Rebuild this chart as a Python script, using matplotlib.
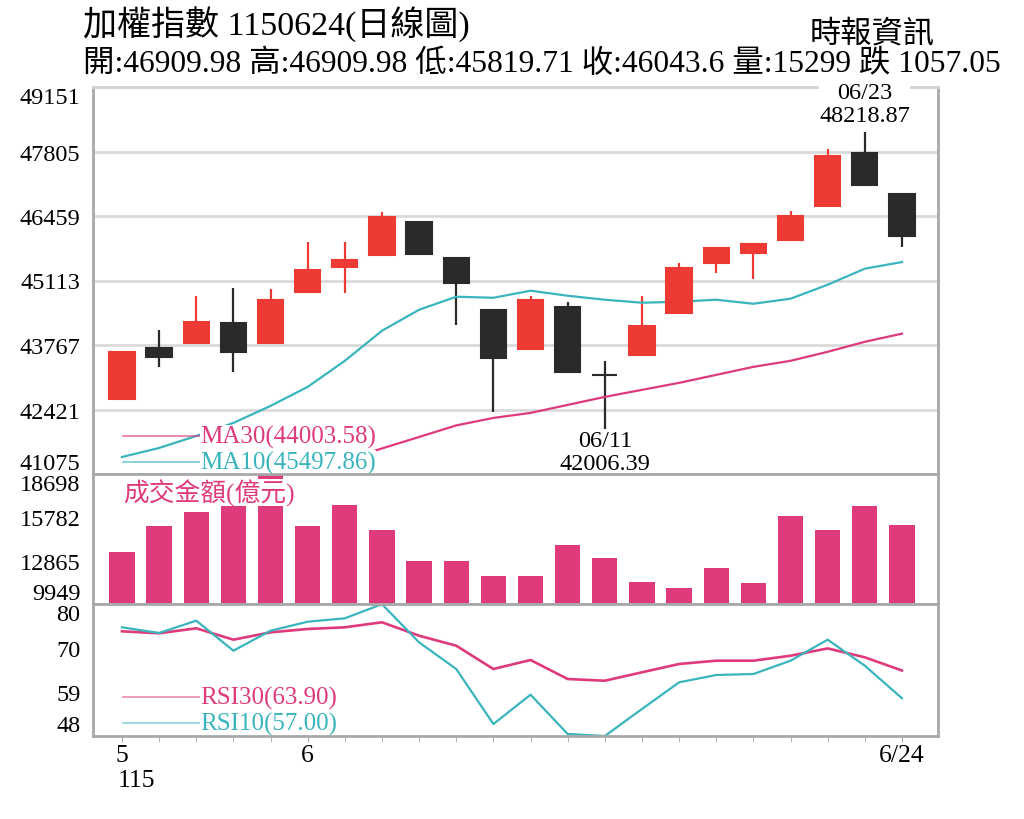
import matplotlib.pyplot as plt
import numpy as np

plt.rcParams['font.family'] = ['Liberation Serif', 'Noto Sans CJK TC']

# daily candles, 5/22 .. 6/24 (ROC year 115)
opens = [42649, 43708, 43819, 44216, 43807, 44864, 45387, 45646, 46342, 45589, 44496,
         43681, 44559, 43150, 43562, 44434, 45479, 45679, 45959, 46676, 47778, 46909.98]
highs = [43625, 44085, 44795, 44948, 44935, 45918, 45918, 46536, 46342, 45589, 44496,
         44781, 44655, 43437, 44781, 45479, 45792, 45876, 46557, 47847, 48218.87, 46909.98]
lows = [42649, 43311, 43819, 43207, 43807, 44864, 44852, 45646, 45673, 44183, 42365,
        43681, 43213, 42006.39, 43562, 44434, 45270, 45144, 45959, 46676, 47094, 45819.71]
closes = [43625, 43514, 44246, 43625, 44712, 45332, 45541, 46446, 45673, 45061, 43493,
          44697, 43213, 43140, 44154, 45374, 45792, 45876, 46453, 47721, 47100.65, 46043.6]

ma10 = [41430, 41618, 41869, 42141, 42496, 42893, 43437, 44064, 44503, 44774, 44753,
        44900, 44795, 44712, 44649, 44670, 44712, 44628, 44733, 45025, 45360, 45497.86]
ma30 = [39925, 40176, 40406, 40657, 40887, 41138, 41368, 41608, 41848, 42089, 42245,
        42350, 42517, 42684, 42831, 42977, 43144, 43311, 43437, 43625, 43834, 44003.58]

volume = [13469, 15219, 16120, 16565, 18698, 15219, 16632, 14929, 12843, 12843, 11854,
          11854, 13920, 13065, 11450, 11026, 12352, 11362, 15851, 14929, 16565, 15299]

rsi30 = [73.65, 73.16, 74.4, 71.57, 73.4, 74.23, 74.65, 75.9, 72.56, 70.07, 64.27,
         66.51, 61.78, 61.36, 63.45, 65.52, 66.34, 66.34, 67.58, 69.4, 67.18, 63.90]
rsi10 = [74.65, 73.23, 76.3, 68.83, 73.8, 76.04, 76.89, 80.4, 70.9, 64.27, 50.58,
         57.88, 48.1, 47.6, 54.32, 60.96, 62.78, 63.03, 66.34, 71.57, 65.09, 57.00]

price_ticks = [41075, 42421, 43767, 45113, 46459, 47805, 49151]
vol_ticks = [9949, 12865, 15782, 18698]
rsi_ticks = [47.6, 58.55, 69.5, 80.45]
rsi_labels = ['48', '59', '70', '80']

x = np.arange(len(opens))
up_color = '#ee3a35'
down_color = '#2a2a2a'
pink = '#df3a7c'
teal = '#3ab5be'
spine_gray = '#a8a8a8'

fig = plt.figure(figsize=(10.24, 8.2), dpi=100)
L, W = 93 / 1024, 845 / 1024
ax1 = fig.add_axes([L, 1 - 475 / 820, W, 387 / 820])
ax2 = fig.add_axes([L, 1 - 605 / 820, W, 130 / 820], sharex=ax1)
ax3 = fig.add_axes([L, 1 - 737 / 820, W, 132 / 820], sharex=ax1)

for ax in (ax1, ax2, ax3):
    for s in ax.spines.values():
        s.set_color(spine_gray)
        s.set_linewidth(2)
    ax.tick_params(axis='y', length=0, labelsize=17.5, pad=9)
    ax.tick_params(axis='x', bottom=False, labelbottom=False)
ax1.spines['top'].set_color('#d4d4d4')

# candles
colors = [up_color if c >= o else down_color for o, c in zip(opens, closes)]
colors[13] = down_color
ax1.vlines(x, lows, highs, colors=colors, linewidth=1.6, zorder=2)
bottoms = [min(o, c) for o, c in zip(opens, closes)]
heights = [abs(c - o) for o, c in zip(opens, closes)]
ax1.bar(x, heights, bottom=bottoms, width=0.68, color=colors, edgecolor=colors,
        linewidth=1.5, zorder=3)
ax1.plot(x, ma10, color=teal, lw=1.6, zorder=2)
ax1.plot(x, ma30, color=pink, lw=1.6, zorder=2)
ax1.set_xlim(-0.78, 21.97)
ax1.set_ylim(price_ticks[0], price_ticks[-1])
ax1.set_yticks(price_ticks)
ax1.set_yticklabels([str(t) for t in price_ticks])
ax1.yaxis.grid(True, color='#dadada', lw=2)
ax1.set_axisbelow(True)
ylab = ax1.get_yticklabels()
ylab[0].set_va('bottom')
ylab[-1].set_va('top')

box = dict(facecolor='white', edgecolor='none', pad=0)
ax1.text(20, 48218.87 + 110, '06/23\n48218.87', ha='center', va='bottom', fontsize=17.5,
         linespacing=1.12, bbox=box, zorder=5)
ax1.text(13, 42006.39 - 20, '06/11\n42006.39', ha='center', va='top', fontsize=17.5,
         linespacing=1.12, bbox=box, zorder=5, clip_on=False)

lx0, lx1 = (123 - 93) / 845, (200 - 93) / 845
for yy, name, col in [(0.098, 'MA30(44003.58)', pink), (0.031, 'MA10(45497.86)', teal)]:
    ax1.plot([lx0, lx1], [yy, yy], color=col, lw=1.2, alpha=0.7,
             transform=ax1.transAxes, zorder=4)
    ax1.text(lx1, yy, name, color=col, fontsize=18, va='center', ha='left',
             transform=ax1.transAxes, bbox=box, zorder=5)

# volume
ax2.bar(x, volume, width=0.68, color=pink, zorder=2)
ax2.set_ylim(vol_ticks[0], vol_ticks[-1])
ax2.set_yticks(vol_ticks)
ax2.set_yticklabels([str(t) for t in vol_ticks])
vlab = ax2.get_yticklabels()
vlab[0].set_va('bottom')
vlab[-1].set_va('top')
ax2.text(lx0, 0.86, '成交金額(億元)', color=pink, fontsize=18.5, va='center', ha='left',
         transform=ax2.transAxes, bbox=box, zorder=5)

# RSI
ax3.plot(x, rsi30, color=pink, lw=1.9, zorder=2)
ax3.plot(x, rsi10, color=teal, lw=1.6, zorder=2)
ax3.set_ylim(rsi_ticks[0], rsi_ticks[-1])
ax3.set_yticks(rsi_ticks)
ax3.set_yticklabels(rsi_labels)
rlab = ax3.get_yticklabels()
rlab[0].set_va('bottom')
rlab[-1].set_va('top')
for yy, name, col in [(0.295, 'RSI30(63.90)', pink), (0.098, 'RSI10(57.00)', teal)]:
    ax3.plot([lx0, lx1], [yy, yy], color=col, lw=1.2, alpha=0.6,
             transform=ax3.transAxes, zorder=4)
    ax3.text(lx1, yy, name, color=col, fontsize=18, va='center', ha='left',
             transform=ax3.transAxes, bbox=box, zorder=5)

ax3.set_xticks([0, 5, 21])
ax3.set_xticklabels(['5', '6', '6/24'])
ax3.set_xticks(x, minor=True)
ax3.tick_params(axis='x', which='major', bottom=True, labelbottom=True, length=4,
                color=spine_gray, labelsize=18.5, pad=2)
ax3.tick_params(axis='x', which='minor', bottom=True, length=4, color=spine_gray)
ax3.text(-0.12, -0.33, '115', fontsize=18.5, ha='left', va='center',
         transform=ax3.get_xaxis_transform())

# header
fig.text(83 / 1024, 1 - 25 / 820, '加權指數 1150624(日線圖)', fontsize=24.5, ha='left', va='center')
fig.text(935 / 1024, 1 - 35 / 820, '時報資訊', fontsize=22.5, ha='right', va='center')
fig.text(83 / 1024, 1 - 64 / 820,
         '開:46909.98 高:46909.98 低:45819.71 收:46043.6 量:15299 跌 1057.05',
         fontsize=22.7, ha='left', va='center')

fig.savefig('out.png', dpi=100, facecolor='white')
